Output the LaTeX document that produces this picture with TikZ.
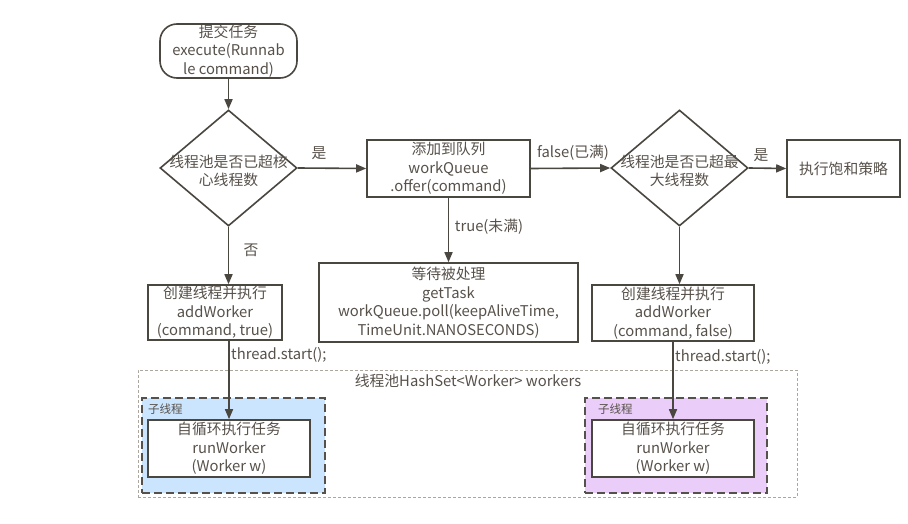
\documentclass[tikz,border=0pt]{standalone}
\usepackage{fontspec}
\setmainfont{Noto Sans CJK SC}
\usetikzlibrary{shapes.geometric,arrows.meta}
\definecolor{ink}{HTML}{4A4640}
\definecolor{txtc}{HTML}{57514A}
\definecolor{outerc}{HTML}{ABA69E}
\definecolor{bluef}{HTML}{CCE5FF}
\definecolor{purpf}{HTML}{EACDF9}
\definecolor{dashc}{HTML}{55524E}
\begin{document}
\begin{tikzpicture}[x=1pt,y=-1pt,
  every node/.style={text=txtc,font=\fontsize{14.8}{18.5}\selectfont},
  box/.style={draw=ink,line width=1.6pt,inner sep=0pt,align=center},
  dia/.style={draw=ink,line width=1.6pt,shape=diamond,inner sep=0pt,minimum width=137,minimum height=116},
  lbl/.style={inner sep=1pt,align=center},
  arr/.style={draw=ink,line width=1.6pt,-{Triangle[length=10pt,width=8pt]}},
  sub/.style={draw=dashc,line width=2pt,dash pattern=on 8pt off 4pt,inner sep=0pt},
  small/.style={font=\fontsize{11.5}{13}\selectfont,inner sep=0pt}
]
\useasboundingbox (0,0) rectangle (908,524);
\fill[white] (0,0) rectangle (908,524);

% start
\node[box,rounded corners=17pt,minimum width=137,minimum height=54] (start) at (228.5,51) {提交任务\\execute(Runnab\\le command)};

% diamonds
\node[dia] (d1) at (228.5,168) {};
\node[lbl] (d1t) at (228.5,171) {线程池是否已超核\\心线程数};
\node[dia] (d2) at (679.5,168) {};
\node[lbl] (d2t) at (679.5,171) {线程池是否已超最\\大线程数};

% boxes
\node[box,minimum width=163,minimum height=57] (b2) at (448.5,168.5) {添加到队列\\workQueue\\.offer(command)};
\node[box,minimum width=259,minimum height=79] (b3) at (448.5,302.5) {等待被处理\\getTask\\workQueue.poll(keepAliveTime,\\TimeUnit.NANOSECONDS)};
\node[box,minimum width=134,minimum height=55] (b4) at (215,312.5) {创建线程并执行\\addWorker\\(command, true)};
\node[box,minimum width=113,minimum height=57] (b5) at (843.5,168.5) {执行饱和策略};
\node[box,minimum width=162,minimum height=56] (b6) at (673,313) {创建线程并执行\\addWorker\\(command, false)};

% pool
\node[draw=outerc,line width=1pt,dash pattern=on 3pt off 2pt,minimum width=659,minimum height=127,inner sep=0pt] (pool) at (467.5,433.5) {};
\node[lbl] (poolt) at (468,381) {线程池HashSet<Worker> workers};

\node[sub,fill=bluef,minimum width=183,minimum height=95] (s1) at (233.5,445.5) {};
\node[small,anchor=west] (s1t) at (148,409) {子线程};
\node[box,fill=white,minimum width=162,minimum height=57] (w1) at (229,448.5) {自循环执行任务\\runWorker\\(Worker w)};

\node[sub,fill=purpf,minimum width=182,minimum height=95] (s2) at (676,445.5) {};
\node[small,anchor=west] (s2t) at (598,409) {子线程};
\node[box,fill=white,minimum width=162,minimum height=57] (w2) at (673,448.5) {自循环执行任务\\runWorker\\(Worker w)};

% connectors
\draw[arr] (start.south) -- (d1.north);
\draw[arr] (d1.east) -- (b2.west);
\node[lbl] (yes1) at (319,153) {是};
\draw[arr] (b2.south) -- (b3.north);
\node[lbl] (tr) at (489,227) {true(未满)};
\draw[arr] (d1.south) -- (d1.south |- b4.north);
\node[lbl] (no1) at (251,250) {否};
\draw[arr] (b2.east) -- (d2.west);
\node[lbl] (fa) at (573,153) {false(已满)};
\draw[arr] (d2.east) -- (b5.west);
\node[lbl] (yes2) at (761,155) {是};
\draw[arr] (d2.south) -- (d2.south |- b6.north);
\draw[arr] (w1.north |- b4.south) -- (w1.north);
\node[lbl,anchor=west] (ts1) at (230,355) {thread.start();};
\draw[arr] (w2.north |- b6.south) -- (w2.north);
\node[lbl,anchor=west] (ts2) at (674,357) {thread.start();};
\end{tikzpicture}
\end{document}
